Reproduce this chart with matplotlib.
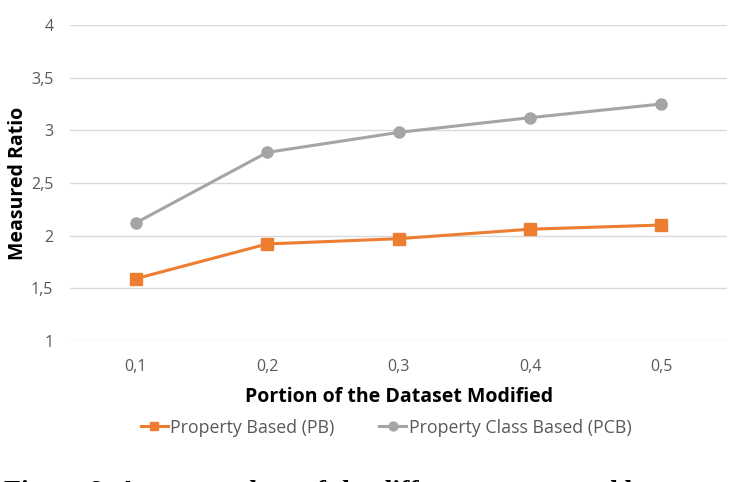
import matplotlib.pyplot as plt

portion = ['0,1', '0,2', '0,3', '0,4', '0,5']
pb = [1.59, 1.92, 1.97, 2.06, 2.10]
pcb = [2.12, 2.79, 2.98, 3.12, 3.25]
yticks = [1, 1.5, 2, 2.5, 3, 3.5, 4]

ORANGE = '#ED7D31'; GRAY = '#A5A5A5'; TXT = '#595959'

plt.rcParams['font.family'] = ['Open Sans', 'DejaVu Sans']
fig = plt.figure(figsize=(7.3, 4.82), dpi=100, facecolor='white')
ax = fig.add_axes([0.096, 0.293, 0.9, 0.655])

x = range(len(portion))
ax.plot(x, pb, color=ORANGE, lw=2.2, marker='s', ms=8, label='Property Based (PB)', zorder=3)
ax.plot(x, pcb, color=GRAY, lw=2.2, marker='o', ms=8, label='Property Class Based (PCB)', zorder=3)

ax.set_xlim(-0.5, len(portion) - 0.5)
ax.set_ylim(1, 4)
ax.set_yticks(yticks)
ax.set_yticklabels([f'{v:g}'.replace('.', ',') for v in yticks])
ax.set_xticks(list(x))
ax.set_xticklabels(portion)
ax.tick_params(length=0, colors=TXT, labelsize=11.5)
ax.tick_params(axis='x', pad=13)
ax.tick_params(axis='y', pad=12)
ax.grid(axis='y', color='#D9D9D9', lw=1)
ax.set_axisbelow(True)
for s in ax.spines.values():
    s.set_visible(False)

ax.set_xlabel('Portion of the Dataset Modified', fontsize=14, fontweight='bold', color='black', labelpad=9)
ax.set_ylabel('Measured Ratio', fontsize=14, fontweight='bold', color='black', labelpad=2)

fig.legend(loc='center', bbox_to_anchor=(0.529, 0.113), ncol=2, frameon=False,
           fontsize=12.8, labelcolor=TXT, handlelength=1.5, columnspacing=2.5,
           handletextpad=0.15, markerscale=0.8)

fig.text(0.005, -0.036, 'Figure 8: Average values of the difference measured by',
         fontsize=20, fontweight='bold', family='Liberation Serif', va='baseline', ha='left')

fig.savefig('out.png', dpi=100, facecolor='white')
